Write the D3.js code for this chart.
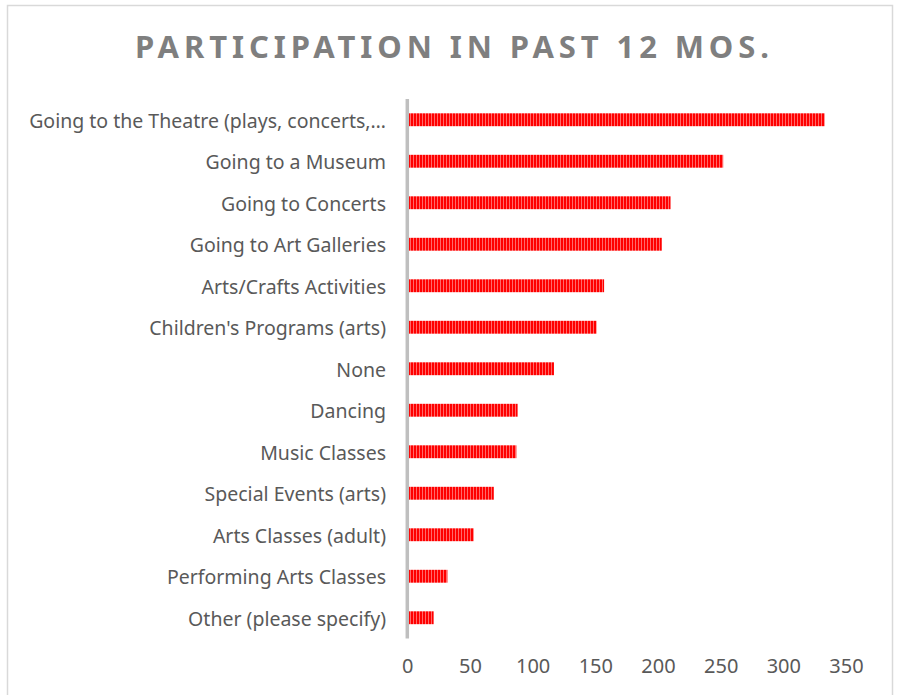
<!DOCTYPE html>
<html>
<head>
<meta charset="utf-8">
<script src="https://cdn.jsdelivr.net/npm/d3@7"></script>
<style>
  body { margin: 0; background: #fff; }
  svg text { font-family: "Noto Sans", "DejaVu Sans", sans-serif; }
</style>
</head>
<body>
<div id="chart"></div>
<script>
(function(){
    var width = 898,
        height = 695;

    // data
    var categories = [
        "Going to the Theatre (plays, concerts,\u2026",
        "Going to a Museum",
        "Going to Concerts",
        "Going to Art Galleries",
        "Arts/Crafts Activities",
        "Children's Programs (arts)",
        "None",
        "Dancing",
        "Music Classes",
        "Special Events (arts)",
        "Arts Classes (adult)",
        "Performing Arts Classes",
        "Other (please specify)"
    ];
    var values = [333, 252, 210, 203, 157, 151, 117, 88, 87, 69, 53, 32, 21];
    var tickValues = [0, 50, 100, 150, 200, 250, 300, 350];

    var svg = d3.select("#chart")
        .append("svg")
        .attr("width", width)
        .attr("height", height);

    // striped fill like the original bars
    var pat = svg.append("defs").append("pattern")
        .attr("id", "stripes")
        .attr("patternUnits", "userSpaceOnUse")
        .attr("width", 3)
        .attr("height", 10);
    pat.append("rect").attr("width", 3).attr("height", 10).attr("fill", "#ff0000");
    pat.append("rect").attr("x", 2).attr("width", 1).attr("height", 10).attr("fill", "#ff6a6a");

    // chart border
    svg.append("rect")
        .attr("x", 7.5).attr("y", 5.5)
        .attr("width", 885).attr("height", 700)
        .attr("fill", "none")
        .attr("stroke", "#d9d9d9")
        .attr("stroke-width", 1.5);

    svg.append("text")
        .attr("x", 452)
        .attr("y", 58)
        .attr("text-anchor", "middle")
        .attr("fill", "#7f7f7f")
        .style("font-size", "31px")
        .style("font-weight", "bold")
        .attr("textLength", 634)
        .attr("lengthAdjust", "spacing")
        .text("PARTICIPATION IN PAST 12 MOS.");

    var x = d3.scaleLinear().domain([0, 350]).range([407.3, 846]);
    var y = d3.scaleBand().domain(categories).range([99, 638.5])
        .paddingInner(0.69).paddingOuter(0.345);

    var data = categories.map(function(c, i){ return { name: c, value: values[i] }; });

    svg.selectAll(".bar")
        .data(data)
        .enter().append("rect")
        .attr("class", "bar")
        .attr("x", x(0))
        .attr("y", function(d){ return y(d.name); })
        .attr("width", function(d){ return x(d.value) - x(0); })
        .attr("height", y.bandwidth())
        .attr("fill", "url(#stripes)");

    // vertical category axis line
    svg.append("line")
        .attr("x1", x(0)).attr("x2", x(0))
        .attr("y1", 99).attr("y2", 638.5)
        .attr("stroke", "#bfbfbf")
        .attr("stroke-width", 3.5);

    svg.selectAll(".cat")
        .data(data)
        .enter().append("text")
        .attr("class", "cat")
        .attr("x", 386)
        .attr("y", function(d){ return y(d.name) + y.bandwidth() / 2 + 1; })
        .attr("dy", "0.35em")
        .attr("text-anchor", "end")
        .attr("fill", "#595959")
        .style("font-size", "19.5px")
        .text(function(d){ return d.name; });

    var xAxis = d3.axisBottom(x).tickValues(tickValues).tickSize(0).tickPadding(0);
    var gx = svg.append("g")
        .attr("transform", "translate(0,659)")
        .call(xAxis);
    gx.select(".domain").remove();
    gx.selectAll("text")
        .attr("fill", "#595959")
        .attr("dy", "0.71em")
        .style("font-size", "20px")
        .style("font-family", "\"Noto Sans\", \"DejaVu Sans\", sans-serif");
})();
</script>
</body>
</html>
